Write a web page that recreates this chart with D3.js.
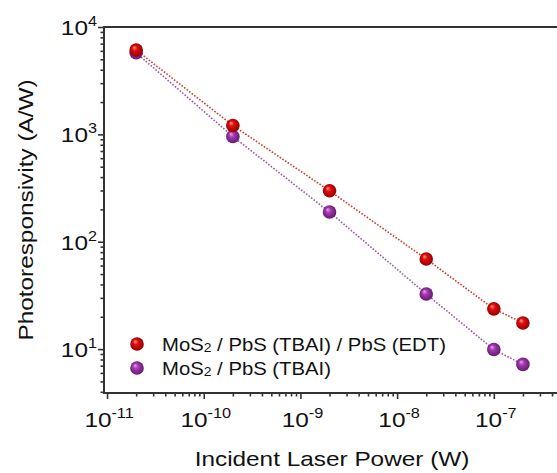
<!DOCTYPE html>
<html>
<head>
<meta charset="utf-8">
<script src="https://cdn.jsdelivr.net/npm/d3@7"></script>
<style>
  html, body { margin: 0; padding: 0; background: #fff; }
  svg { display: block; font-family: "Liberation Sans", Arial, sans-serif; }
</style>
</head>
<body>
<svg id="chart" width="557" height="473"></svg>
<script>
// Incident laser power (W)
const power = [2e-11, 2e-10, 2e-9, 2e-8, 1e-7, 2e-7];
// Photoresponsivity (A/W) for each device
const respBilayer = [6100, 1210, 298, 69, 23.7, 17.5];   // MoS2 / PbS (TBAI) / PbS (EDT)
const respSingle  = [5750, 955, 189, 32.6, 9.9, 7.2];    // MoS2 / PbS (TBAI)
const seriesNames = ["MoS2 / PbS (TBAI) / PbS (EDT)", "MoS2 / PbS (TBAI)"];
const xMajorTicks = [1e-11, 1e-10, 1e-9, 1e-8, 1e-7];
const xTickExponents = ["-11", "-10", "-9", "-8", "-7"];
const yMajorTicks = [1e1, 1e2, 1e3, 1e4];
const yTickExponents = ["1", "2", "3", "4"];

const svg = d3.select("#chart");
const plotLeft = 104, plotRight = 561.4, plotTop = 27, plotBottom = 393;
const textStretch = 1.16;   // wide sans lettering

const x = d3.scaleLog().domain([9.3e-12, 5e-7]).range([plotLeft, plotRight]);
const y = d3.scaleLog().domain([3.9, 1e4]).range([plotBottom, plotTop]);

// sphere-like marker fills
const defs = svg.append("defs");
function ballGradient(id, light, mid, dark) {
  const g = defs.append("radialGradient").attr("id", id)
    .attr("cx", "50%").attr("cy", "50%").attr("r", "55%")
    .attr("fx", "35%").attr("fy", "30%");
  g.append("stop").attr("offset", "0%").attr("stop-color", light);
  g.append("stop").attr("offset", "35%").attr("stop-color", mid);
  g.append("stop").attr("offset", "100%").attr("stop-color", dark);
}
ballGradient("ballRed", "#ff9a8a", "#e10c0c", "#8a0000");
ballGradient("ballPurple", "#e6a6ee", "#a43bb0", "#5e1468");

const series = [
  { name: seriesNames[0], values: respBilayer, line: "#c8402e", fill: "url(#ballRed)" },
  { name: seriesNames[1], values: respSingle, line: "#9a5aaa", fill: "url(#ballPurple)" }
];

// text placed at (px, py), optionally rotated, stretched along its baseline
function label(px, py, rot, size, anchor) {
  return svg.append("g")
    .attr("transform", `translate(${px},${py}) rotate(${rot}) scale(${textStretch},1)`)
    .append("text").attr("text-anchor", anchor).attr("font-size", size).attr("fill", "#111");
}

// minor tick values for both axes
const xMinor = [];
for (let e = -12; e <= -7; e++) for (let m = 2; m <= 9; m++) {
  const v = m * Math.pow(10, e);
  if (v >= x.domain()[0] && v <= x.domain()[1]) xMinor.push(v);
}
const yMinor = [];
for (let e = 0; e <= 3; e++) for (let m = 2; m <= 9; m++) {
  const v = m * Math.pow(10, e);
  if (v >= y.domain()[0] && v <= y.domain()[1]) yMinor.push(v);
}

const axisColor = "#333";

const gxMinor = svg.append("g").attr("transform", `translate(0,${plotBottom})`)
  .call(d3.axisBottom(x).tickValues(xMinor).tickSize(3.5).tickFormat(""));
const gx = svg.append("g").attr("transform", `translate(0,${plotBottom})`)
  .call(d3.axisBottom(x).tickValues(xMajorTicks).tickSize(6).tickFormat(""));
const gyMinor = svg.append("g").attr("transform", `translate(${plotLeft},0)`)
  .call(d3.axisLeft(y).tickValues(yMinor).tickSize(3.5).tickFormat(""));
const gy = svg.append("g").attr("transform", `translate(${plotLeft},0)`)
  .call(d3.axisLeft(y).tickValues(yMajorTicks).tickSize(6).tickFormat(""));

[gxMinor, gx, gyMinor, gy].forEach(g => {
  g.select(".domain").remove();
  g.selectAll(".tick line").attr("stroke", axisColor).attr("stroke-width", 1.6);
});

// frame
svg.append("rect").attr("x", plotLeft).attr("y", plotTop)
  .attr("width", plotRight - plotLeft).attr("height", plotBottom - plotTop)
  .attr("fill", "none").attr("stroke", axisColor).attr("stroke-width", 2);

// power-of-ten tick labels
function powerLabel(sel, exp) {
  sel.append("tspan").text("10");
  sel.append("tspan").attr("font-size", 14).attr("dy", -9).text(exp);
}
xMajorTicks.forEach((v, i) => {
  powerLabel(label(x(v) + 2, 427, 0, 21, "middle"), xTickExponents[i]);
});
yMajorTicks.forEach((v, i) => {
  powerLabel(label(97, y(v) + 8, 0, 21, "end"), yTickExponents[i]);
});

// axis titles
label(332, 466, 0, 21, "middle").text("Incident Laser Power (W)");
label(33, (plotTop + plotBottom) / 2, -90, 21, "middle").text("Photoresponsivity (A/W)");

// dotted connecting lines
const line = d3.line().x(d => x(d[0])).y(d => y(d[1]));
series.forEach(s => {
  svg.append("path").datum(power.map((p, i) => [p, s.values[i]]))
    .attr("d", line).attr("fill", "none").attr("stroke", s.line)
    .attr("stroke-width", 1.6).attr("stroke-dasharray", "1.6,1.6");
});

// markers (lower series first so the upper balls sit on top)
series.slice().reverse().forEach(s => {
  svg.append("g").selectAll("circle").data(power.map((p, i) => [p, s.values[i]]))
    .join("circle").attr("cx", d => x(d[0])).attr("cy", d => y(d[1]))
    .attr("r", 6.8).attr("fill", s.fill);
});

// legend
const legendY = [344, 368];
series.forEach((s, i) => {
  svg.append("circle").attr("cx", 137).attr("cy", legendY[i]).attr("r", 6.8).attr("fill", s.fill);
  const t = label(162, legendY[i] + 6.5, 0, 17.5, "start");
  const parts = s.name.split("MoS2");
  t.append("tspan").text("MoS");
  t.append("tspan").attr("font-size", 12).attr("dy", 1.5).text("2");
  t.append("tspan").attr("dy", -1.5).text(parts[1]);
});
</script>
</body>
</html>
